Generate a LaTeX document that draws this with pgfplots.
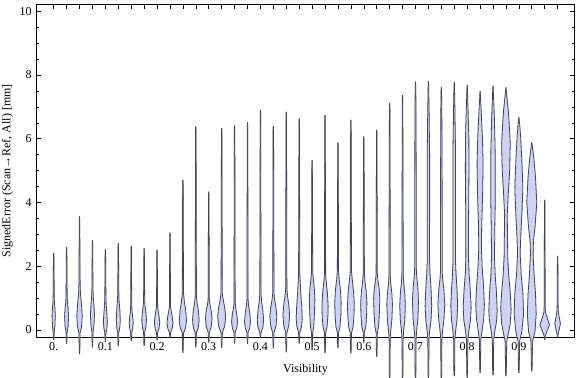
\documentclass[border=0pt]{standalone}
\usepackage{fontspec}
\setmainfont{Liberation Serif}
\usepackage{pgfplots}
\pgfplotsset{compat=1.18}
\definecolor{vfillc}{RGB}{204,211,245}
\definecolor{vlinec}{RGB}{70,70,80}
% half-widths w are in px of the reference (1 px = 0.001934 x-units)
\newcommand{\violin}[2]{%
  \addplot[fill=vfillc, draw=vfillc, line width=0.6pt] table[row sep=\\, x expr={0.025*#1+0.001934*\thisrow{w}}, y=y] {#2} -- cycle;
  \addplot[fill=vfillc, draw=vfillc, line width=0.6pt] table[row sep=\\, x expr={0.025*#1-0.001934*\thisrow{w}}, y=y] {#2} -- cycle;
  \addplot[draw=vlinec, line width=0.6pt] table[row sep=\\, x expr={0.025*#1+0.001934*\thisrow{w}}, y=y] {#2};
  \addplot[draw=vlinec, line width=0.6pt] table[row sep=\\, x expr={0.025*#1-0.001934*\thisrow{w}}, y=y] {#2};
}
\begin{document}
\begin{tikzpicture}
\begin{axis}[
  scale only axis, width=403.8pt, height=249.75pt,
  xmin=-0.0337, xmax=1.008, ymin=-0.23, ymax=10.22,
  clip=false,
  axis line style={black, line width=0.6pt},
  tick style={black, line width=0.45pt},
  major tick length=3.4pt, minor tick length=2pt,
  xtick={0,0.025,0.05,0.075,0.1,0.125,0.15,0.175,0.2,0.225,0.25,0.275,0.3,0.325,0.35,0.375,0.4,0.425,0.45,0.475,0.5,0.525,0.55,0.575,0.6,0.625,0.65,0.675,0.7,0.725,0.75,0.775,0.8,0.825,0.85,0.875,0.9,0.925,0.95,0.975},
  xticklabels={0.,{},{},{},0.1,{},{},{},0.2,{},{},{},0.3,{},{},{},0.4,{},{},{},0.5,{},{},{},0.6,{},{},{},0.7,{},{},{},0.8,{},{},{},0.9,{},{},{}},
  ytick={0,2,4,6,8,10},
  minor y tick num=3,
  /pgf/number format/assume math mode=true,
  tick label style={font=\fontsize{9}{10}\selectfont},
  xticklabel style={anchor=base, yshift=-10.3pt},
  label style={font=\fontsize{9}{10}\selectfont},
  xlabel={Visibility},
  xlabel style={at={(rel axis cs:0.5,0)}, anchor=base, yshift=-26.25pt},
  ylabel={SignedError (Scan→Ref, All) [mm]},
  ylabel style={at={(rel axis cs:-0.0427,0.5)}, anchor=south, inner sep=0pt, rotate=0},
]
\violin{0}{y w\\ -0.31 0\\ -0.2 0.3\\ -0.08 0.5\\ 0.12 1.2\\ 0.45 1.6\\ 0.7 1.2\\ 0.88 0.7\\ 1.05 0.55\\ 1.8 0.35\\ 2.3 0.2\\ 2.41 0\\}
\violin{1}{y w\\ -0.43 0\\ -0.3 0.3\\ -0.08 0.5\\ 0.12 1.5\\ 0.42 2.0\\ 0.68 1.5\\ 0.88 0.8\\ 1.05 0.55\\ 1.9 0.35\\ 2.48 0.2\\ 2.59 0\\}
\violin{2}{y w\\ -0.76 0\\ -0.6 0.3\\ -0.1 0.5\\ 0.1 2.0\\ 0.42 2.7\\ 0.8 2.0\\ 1.1 1.0\\ 1.4 0.6\\ 2.5 0.4\\ 3.45 0.2\\ 3.56 0\\}
\violin{3}{y w\\ -0.55 0\\ -0.4 0.3\\ -0.08 0.5\\ 0.15 1.5\\ 0.47 2.0\\ 0.78 1.5\\ 1.02 0.8\\ 1.25 0.55\\ 2.0 0.35\\ 2.7 0.2\\ 2.82 0\\}
\violin{4}{y w\\ -0.37 0\\ -0.25 0.3\\ -0.08 0.6\\ 0.06 1.5\\ 0.26 2.0\\ 0.5 1.5\\ 0.78 0.8\\ 1.04 0.55\\ 1.8 0.35\\ 2.42 0.2\\ 2.53 0\\}
\violin{5}{y w\\ -0.50 0\\ -0.38 0.3\\ -0.08 0.55\\ 0.08 1.5\\ 0.31 2.0\\ 0.65 1.5\\ 0.90 0.8\\ 1.15 0.55\\ 1.94 0.35\\ 2.62 0.2\\ 2.72 0\\}
\violin{6}{y w\\ -0.34 0\\ -0.22 0.3\\ -0.08 0.6\\ 0.05 1.5\\ 0.21 2.0\\ 0.4 1.5\\ 0.58 0.8\\ 0.75 0.55\\ 1.6 0.35\\ 2.53 0.2\\ 2.64 0\\}
\violin{7}{y w\\ -0.50 0\\ -0.38 0.3\\ -0.08 0.55\\ 0.08 1.7\\ 0.31 2.3\\ 0.57 1.7\\ 0.76 0.9\\ 0.95 0.55\\ 1.75 0.35\\ 2.46 0.2\\ 2.56 0\\}
\violin{8}{y w\\ -0.32 0\\ -0.2 0.3\\ -0.08 0.6\\ 0.05 2.0\\ 0.24 2.7\\ 0.44 2.0\\ 0.6 1.1\\ 0.75 0.55\\ 1.6 0.35\\ 2.41 0.2\\ 2.51 0\\}
\violin{9}{y w\\ -0.23 0\\ -0.15 0.35\\ -0.06 0.8\\ 0.05 2.2\\ 0.22 3.0\\ 0.43 2.2\\ 0.59 1.2\\ 0.75 0.55\\ 1.9 0.35\\ 2.95 0.2\\ 3.05 0\\}
\violin{10}{y w\\ -0.71 0\\ -0.59 0.3\\ -0.1 0.55\\ 0.07 2.7\\ 0.30 3.6\\ 0.64 2.7\\ 0.9 1.4\\ 1.15 0.6\\ 2.9 0.4\\ 4.6 0.2\\ 4.71 0\\}
\violin{11}{y w\\ -0.55 0\\ -0.43 0.3\\ -0.1 0.55\\ 0.08 2.5\\ 0.31 3.3\\ 0.61 2.5\\ 0.83 1.3\\ 1.05 0.6\\ 3.7 0.4\\ 6.28 0.2\\ 6.38 0\\}
\violin{12}{y w\\ -0.40 0\\ -0.28 0.3\\ -0.08 0.55\\ 0.1 2.5\\ 0.37 3.3\\ 0.6 2.5\\ 0.78 1.3\\ 0.95 0.6\\ 2.6 0.4\\ 4.24 0.2\\ 4.34 0\\}
\violin{13}{y w\\ -0.56 0\\ -0.44 0.3\\ -0.1 0.55\\ 0.12 3.0\\ 0.42 4.0\\ 0.71 3.0\\ 0.93 1.6\\ 1.15 0.6\\ 3.7 0.4\\ 6.23 0.2\\ 6.33 0\\}
\violin{14}{y w\\ -0.42 0\\ -0.3 0.3\\ -0.08 0.55\\ 0.06 2.2\\ 0.26 3.0\\ 0.5 2.2\\ 0.67 1.2\\ 0.85 0.55\\ 3.6 0.4\\ 6.31 0.2\\ 6.41 0\\}
\violin{15}{y w\\ -0.44 0\\ -0.32 0.3\\ -0.08 0.55\\ 0.06 2.2\\ 0.26 3.0\\ 0.54 2.2\\ 0.74 1.2\\ 0.95 0.55\\ 3.7 0.4\\ 6.41 0.2\\ 6.51 0\\}
\violin{16}{y w\\ -0.23 0\\ -0.15 0.35\\ -0.06 0.8\\ 0.08 2.4\\ 0.30 3.2\\ 0.62 2.4\\ 0.86 1.3\\ 1.1 0.6\\ 4.0 0.4\\ 6.8 0.2\\ 6.90 0\\}
\violin{17}{y w\\ -0.57 0\\ -0.45 0.3\\ -0.1 0.55\\ 0.12 2.6\\ 0.42 3.5\\ 0.71 2.6\\ 0.93 1.4\\ 1.15 0.6\\ 3.8 0.4\\ 6.30 0.2\\ 6.40 0\\}
\violin{18}{y w\\ -0.70 0\\ -0.58 0.3\\ -0.1 0.55\\ 0.14 2.5\\ 0.47 3.3\\ 0.8 2.5\\ 1.05 1.3\\ 1.3 0.6\\ 4.1 0.4\\ 6.74 0.2\\ 6.84 0\\}
\violin{19}{y w\\ -0.42 0\\ -0.3 0.3\\ -0.08 0.6\\ 0.1 2.3\\ 0.35 3.0\\ 0.75 2.5\\ 1.2 1.5\\ 1.75 0.6\\ 4.2 0.4\\ 6.53 0.2\\ 6.63 0\\}
\violin{20}{y w\\ -0.63 0\\ -0.51 0.3\\ -0.1 0.55\\ 0.1 1.6\\ 0.5 2.3\\ 0.95 2.8\\ 1.3 2.2\\ 1.6 1.2\\ 1.8 0.6\\ 3.6 0.4\\ 5.22 0.2\\ 5.32 0\\}
\violin{21}{y w\\ -0.72 0\\ -0.6 0.3\\ -0.1 0.55\\ 0.1 2.0\\ 0.4 2.8\\ 0.75 3.1\\ 1.15 2.4\\ 1.5 1.2\\ 1.75 0.6\\ 4.2 0.4\\ 6.65 0.2\\ 6.75 0\\}
\violin{22}{y w\\ -0.56 0\\ -0.44 0.3\\ -0.1 0.55\\ 0.1 2.0\\ 0.45 2.9\\ 0.85 3.2\\ 1.25 2.5\\ 1.6 1.2\\ 1.85 0.6\\ 3.9 0.4\\ 5.78 0.2\\ 5.88 0\\}
\violin{23}{y w\\ -0.73 0\\ -0.61 0.3\\ -0.1 0.55\\ 0.1 2.2\\ 0.45 3.1\\ 0.8 3.4\\ 1.2 2.7\\ 1.6 1.3\\ 1.85 0.6\\ 4.2 0.4\\ 6.49 0.2\\ 6.59 0\\}
\violin{24}{y w\\ -0.40 0\\ -0.28 0.3\\ -0.08 0.55\\ 0.1 2.0\\ 0.45 2.8\\ 0.85 3.1\\ 1.2 2.4\\ 1.5 1.2\\ 1.75 0.6\\ 3.9 0.4\\ 5.97 0.2\\ 6.07 0\\}
\violin{25}{y w\\ -0.84 0\\ -0.72 0.3\\ -0.1 0.55\\ 0.1 1.8\\ 0.5 2.6\\ 1.0 3.1\\ 1.3 2.4\\ 1.55 1.2\\ 1.75 0.6\\ 4.0 0.4\\ 6.18 0.2\\ 6.28 0\\}
\violin{26}{y w\\ -1.6 0\\ -1.4 0.35\\ -0.3 0.5\\ -0.05 1.0\\ 0.3 2.2\\ 0.8 2.8\\ 1.15 2.2\\ 1.45 1.1\\ 1.7 0.65\\ 4.5 0.45\\ 7.0 0.2\\ 7.11 0\\}
\violin{27}{y w\\ -1.6 0\\ -1.4 0.35\\ -0.3 0.5\\ -0.05 1.0\\ 0.3 2.2\\ 0.75 2.8\\ 1.15 2.2\\ 1.5 1.1\\ 1.75 0.65\\ 4.6 0.45\\ 7.27 0.2\\ 7.37 0\\}
\violin{28}{y w\\ -1.6 0\\ -1.4 0.35\\ -0.3 0.55\\ -0.05 1.1\\ 0.35 2.4\\ 0.9 3.0\\ 1.3 2.4\\ 1.7 1.2\\ 1.95 0.8\\ 4.5 0.7\\ 7.0 0.5\\ 7.69 0.2\\ 7.79 0\\}
\violin{29}{y w\\ -1.6 0\\ -1.4 0.35\\ -0.3 0.55\\ -0.05 1.2\\ 0.3 2.6\\ 0.75 3.3\\ 1.3 2.6\\ 1.8 1.6\\ 2.2 1.1\\ 3.5 1.2\\ 5.5 1.2\\ 6.8 0.7\\ 7.71 0.2\\ 7.81 0\\}
\violin{30}{y w\\ -1.6 0\\ -1.4 0.35\\ -0.3 0.55\\ -0.05 1.2\\ 0.35 2.7\\ 0.8 3.4\\ 1.25 2.6\\ 1.6 1.3\\ 1.8 0.9\\ 4.5 0.8\\ 6.8 0.5\\ 7.51 0.2\\ 7.61 0\\}
\violin{31}{y w\\ -1.45 0\\ -1.3 0.35\\ -0.3 0.6\\ -0.05 1.3\\ 0.3 2.7\\ 0.75 3.4\\ 1.3 2.7\\ 1.8 1.7\\ 2.2 1.2\\ 3.5 1.3\\ 5.5 1.3\\ 6.9 0.7\\ 7.68 0.2\\ 7.78 0\\}
\violin{32}{y w\\ -1.5 0\\ -1.35 0.35\\ -0.3 0.7\\ -0.05 1.6\\ 0.3 3.3\\ 0.7 4.0\\ 1.3 3.0\\ 1.8 1.8\\ 2.3 1.3\\ 3.5 1.4\\ 5.0 1.8\\ 6.0 1.7\\ 6.9 0.9\\ 7.58 0.2\\ 7.68 0\\}
\violin{33}{y w\\ -1.35 0\\ -1.2 0.35\\ -0.3 0.7\\ -0.05 1.8\\ 0.35 3.6\\ 0.8 4.3\\ 1.4 3.4\\ 2.0 2.0\\ 2.6 1.3\\ 3.3 1.6\\ 4.2 2.5\\ 5.2 3.0\\ 6.0 2.4\\ 6.8 1.2\\ 7.39 0.2\\ 7.49 0\\}
\violin{34}{y w\\ -1.42 0\\ -1.27 0.35\\ -0.3 0.7\\ -0.05 1.8\\ 0.3 3.6\\ 0.6 4.2\\ 1.2 3.4\\ 1.8 2.0\\ 2.3 1.5\\ 3.0 1.7\\ 4.0 2.2\\ 5.5 2.2\\ 6.5 1.5\\ 7.2 0.7\\ 7.56 0.2\\ 7.66 0\\}
\violin{35}{y w\\ -1.45 0\\ -1.3 0.35\\ -0.35 0.8\\ -0.1 2.5\\ 0.2 4.3\\ 0.65 5.2\\ 1.15 4.4\\ 1.7 2.8\\ 2.3 1.8\\ 2.9 1.6\\ 3.6 1.3\\ 4.3 2.4\\ 5.0 3.7\\ 5.85 4.3\\ 6.5 3.2\\ 6.9 2.3\\ 7.3 1.0\\ 7.51 0.3\\ 7.61 0\\}
\violin{36}{y w\\ -1.35 0\\ -1.2 0.35\\ -0.35 0.8\\ -0.05 3.0\\ 0.5 4.7\\ 1.15 4.0\\ 1.75 2.3\\ 2.4 1.3\\ 3.0 2.0\\ 3.8 3.3\\ 4.5 4.0\\ 5.3 3.0\\ 6.1 1.7\\ 6.5 0.7\\ 6.67 0\\}
\violin{37}{y w\\ -1.3 0\\ -1.15 0.35\\ -0.35 0.8\\ -0.05 3.2\\ 0.5 4.4\\ 1.15 3.7\\ 1.75 2.3\\ 2.4 1.3\\ 2.8 1.7\\ 3.25 3.3\\ 4.0 5.0\\ 4.8 3.7\\ 5.4 2.0\\ 5.75 0.6\\ 5.88 0\\}
\violin{38}{y w\\ -0.31 0\\ -0.22 0.35\\ -0.15 1.0\\ 0.16 4.7\\ 0.35 2.8\\ 0.55 0.8\\ 0.75 0.5\\ 2.5 0.35\\ 3.98 0.2\\ 4.08 0\\}
\violin{39}{y w\\ -0.25 0\\ -0.18 0.35\\ -0.08 0.9\\ 0.2 2.8\\ 0.4 1.6\\ 0.6 0.6\\ 0.8 0.45\\ 1.6 0.3\\ 2.22 0.2\\ 2.32 0\\}
\end{axis}
\pgfresetboundingbox
\path[use as bounding box] ([xshift=-27.2pt,yshift=-29.8pt]current axis.south west) rectangle ([xshift=1pt,yshift=3.2pt]current axis.north east);
\end{tikzpicture}
\end{document}
